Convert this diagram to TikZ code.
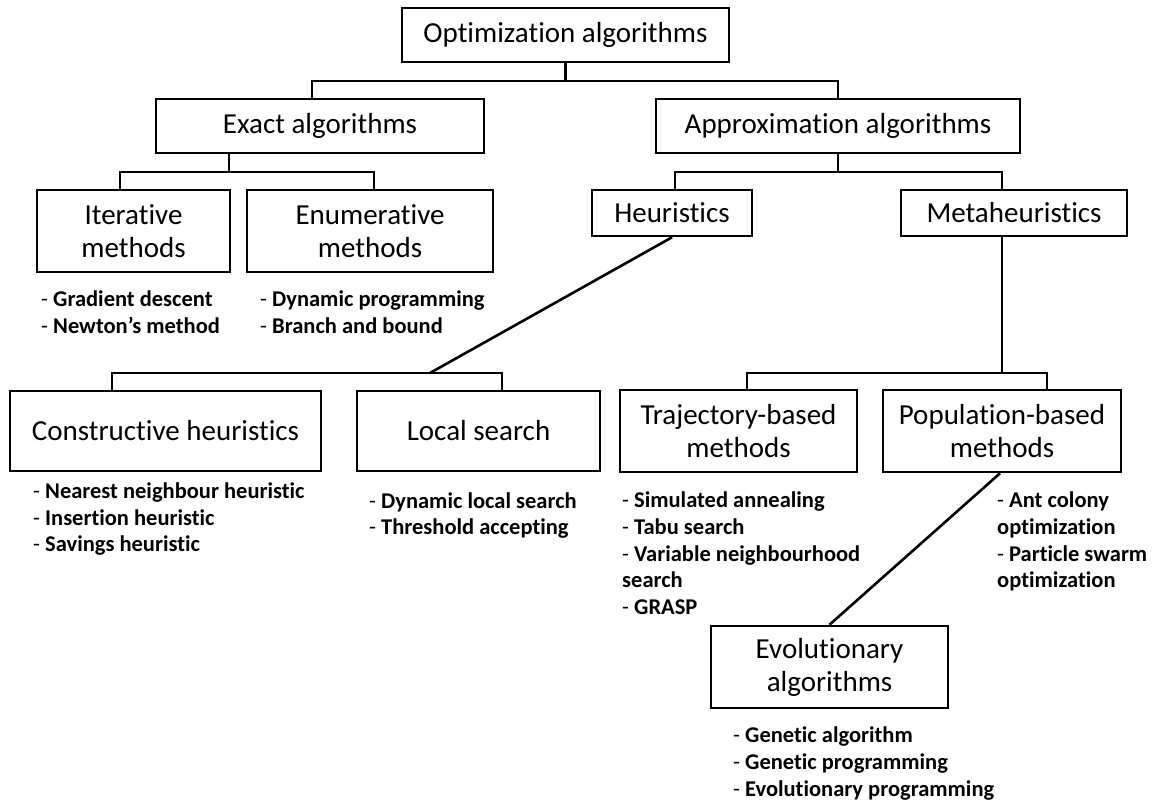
\documentclass[tikz,border=0pt]{standalone}
\usepackage{fontspec}
\setmainfont{Carlito}[Ligatures=NoCommon]
\newcommand{\lidash}{\textmd{-} }
\begin{document}
\begin{tikzpicture}[x=1pt,y=-1pt,
  box/.style={draw, line width=2.6pt, inner sep=0pt, align=center,
    font=\fontsize{29}{33}\selectfont},
  link/.style={line width=2.6pt, line join=miter},
  item/.style={anchor=base west, inner sep=0pt,
    font=\bfseries\fontsize{22.5}{26}\selectfont}]
\useasboundingbox (0,0) rectangle (1154,802);

% boxes
\node[box, minimum width=327, minimum height=54] (opt) at (565.5,35) {Optimization algorithms};
\node[box, minimum width=328, minimum height=54] (exact) at (320,126) {Exact algorithms};
\node[box, minimum width=364, minimum height=54] (approx) at (838,126) {Approximation algorithms};
\node[box, minimum width=193, minimum height=82] (iter) at (133.5,231) {Iterative\\methods};
\node[box, minimum width=246, minimum height=82] (enum) at (370,231) {Enumerative\\methods};
\node[box, minimum width=160, minimum height=46] (heur) at (672,213) {Heuristics};
\node[box, minimum width=226, minimum height=46] (meta) at (1014,213) {Metaheuristics};
\node[box, minimum width=311, minimum height=80] (cons) at (165.5,431) {Constructive heuristics};
\node[box, minimum width=243, minimum height=80] (local) at (478.5,431) {Local search};
\node[box, minimum width=237, minimum height=82] (traj) at (738.5,431) {Trajectory-based\\methods};
\node[box, minimum width=238, minimum height=82] (pop) at (1002,431) {Population-based\\methods};
\node[box, minimum width=237, minimum height=82] (evo) at (829.5,667) {Evolutionary\\algorithms};

% rails
\coordinate (r1) at (0,81);
\coordinate (r2) at (0,172);
\coordinate (hj) at (430,373);

\draw[link] (opt.south) -- (opt.south |- r1);
\draw[link] ([xshift=-8pt]exact.north) -- ([xshift=-8pt]exact.north |- r1)
  -- (approx.north |- r1) -- (approx.north);

\draw[link] ([xshift=-91pt]exact.south) -- ([xshift=-91pt]exact.south |- r2);
\draw[link] ([xshift=-13.5pt]iter.north) -- ([xshift=-13.5pt]iter.north |- r2)
  -- ([xshift=4pt]enum.north |- r2) -- ([xshift=4pt]enum.north);

\draw[link] (approx.south) -- (approx.south |- r2);
\draw[link] ([xshift=3pt]heur.north) -- ([xshift=3pt]heur.north |- r2)
  -- ([xshift=-12pt]meta.north |- r2) -- ([xshift=-12pt]meta.north);

\draw[link] (heur.south) -- (hj);
\draw[link] ([xshift=-53.5pt]cons.north) -- ([xshift=-53.5pt]cons.north |- hj)
  -- ([xshift=23.5pt]local.north |- hj) -- ([xshift=23.5pt]local.north);

\draw[link] ([xshift=-12pt]meta.south) -- ([xshift=-12pt]meta.south |- hj);
\draw[link] ([xshift=8.5pt]traj.north) -- ([xshift=8.5pt]traj.north |- hj)
  -- ([xshift=45pt]pop.north |- hj) -- ([xshift=45pt]pop.north);

\draw[link] ([xshift=-2pt]pop.south) -- (evo.north);

% method lists
\node[item] (it1) at (41,307) {\lidash Gradient descent};
\node[item] (it2) at (41,334) {\lidash Newton’s method};

\node[item] (en1) at (260,307) {\lidash Dynamic programming};
\node[item] (en2) at (260,334) {\lidash Branch and bound};

\node[item] (co1) at (33,498.5) {\lidash Nearest neighbour heuristic};
\node[item] (co2) at (33,525) {\lidash Insertion heuristic};
\node[item] (co3) at (33,551.5) {\lidash Savings heuristic};

\node[item] (lo1) at (369,508) {\lidash Dynamic local search};
\node[item] (lo2) at (369,534.5) {\lidash Threshold accepting};

\node[item] (tr1) at (622,507.7) {\lidash Simulated annealing};
\node[item] (tr2) at (622,534.3) {\lidash Tabu search};
\node[item] (tr3) at (622,561) {\lidash Variable neighbourhood};
\node[item] (tr4) at (622,587.5) {search};
\node[item] (tr5) at (622,614) {\lidash GRASP};

\node[item] (po1) at (997,507.7) {\lidash Ant colony};
\node[item] (po2) at (997,534.3) {optimization};
\node[item] (po3) at (997,561) {\lidash Particle swarm};
\node[item] (po4) at (997,587.5) {optimization};

\node[item] (ev1) at (733,742.7) {\lidash Genetic algorithm};
\node[item] (ev2) at (733,769.3) {\lidash Genetic programming};
\node[item] (ev3) at (733,796) {\lidash Evolutionary programming};
\end{tikzpicture}
\end{document}
